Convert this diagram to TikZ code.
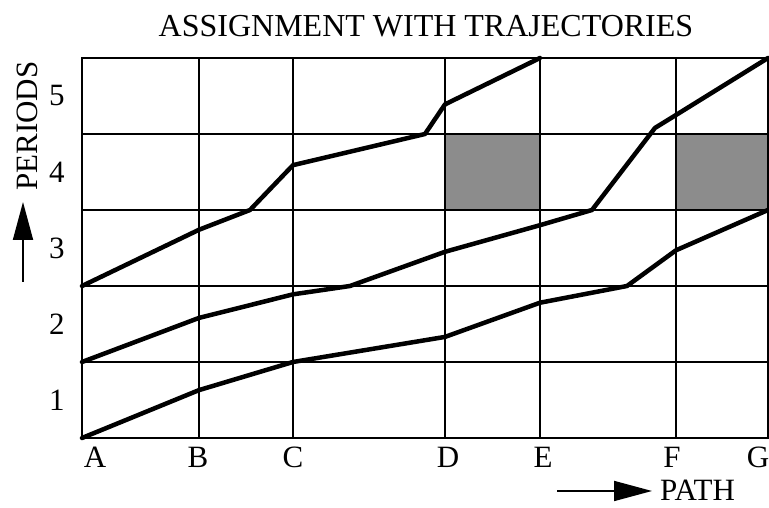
\documentclass[tikz,border=0pt]{standalone}
\usepackage{fontspec}
\setmainfont{Liberation Serif}
\usetikzlibrary{arrows.meta}

\begin{document}
\begin{tikzpicture}[
    x=1pt, y=76pt,
    gridline/.style={line width=1.8pt, line cap=rect},
    traj/.style={line width=4.5pt, line join=round, line cap=round},
    busy/.style={fill=black!45},
    lbl/.style={font=\fontsize{31}{33}\selectfont, inner sep=0pt},
    axisarrow/.style={line width=1.8pt, -{Triangle[length=38pt, width=20pt]}},
  ]
    \useasboundingbox (-82pt,-70pt) rectangle (687pt,438pt);

    % occupied cells
    \fill[busy] (363,3) rectangle (458,4);
    \fill[busy] (594,3) rectangle (686,4);

    % stations along the path and periods
    \foreach \x in {0,117,211,363,458,594,686}
      \draw[gridline] (\x,0) -- (\x,5);
    \foreach \y in {0,...,5}
      \draw[gridline] (0,\y) -- (686,\y);

    % trajectories
    \draw[traj] (0,0) -- (117,0.63) -- (211,1) -- (363,1.33) -- (458,1.78)
      -- (545,2) -- (594,2.47) -- (686,3);
    \draw[traj] (0,1) -- (117,1.58) -- (211,1.89) -- (268,2) -- (363,2.45)
      -- (458,2.80) -- (510,3) -- (573,4.08) -- (594,4.25) -- (686,5);
    \draw[traj] (0,2) -- (117,2.74) -- (168,3) -- (211,3.59) -- (343,4)
      -- (363,4.39) -- (458,5);

    % labels
    \node[lbl, font=\fontsize{32}{34}\selectfont] (title) at (344pt,412pt) {ASSIGNMENT WITH TRAJECTORIES};
    \node[lbl, anchor=base] (stA) at (13,-30pt) {A};
    \node[lbl, anchor=base] (stB) at (116,-30pt) {B};
    \node[lbl, anchor=base] (stC) at (211,-30pt) {C};
    \node[lbl, anchor=base] (stD) at (366,-30pt) {D};
    \node[lbl, anchor=base] (stE) at (461,-30pt) {E};
    \node[lbl, anchor=base] (stF) at (590,-30pt) {F};
    \node[lbl, anchor=base] (stG) at (676,-30pt) {G};

    \node[lbl] (per1) at (-25,0.5) {1};
    \node[lbl] (per2) at (-25,1.5) {2};
    \node[lbl] (per3) at (-25,2.5) {3};
    \node[lbl] (per4) at (-25,3.5) {4};
    \node[lbl] (per5) at (-25,4.5) {5};

    \node[lbl, anchor=base west] (path) at (578,-63pt) {PATH};
    \coordinate (pathtail) at (475,-53pt);
    \coordinate (pathtip) at (570,-53pt);
    \draw[axisarrow] (pathtail) -- (pathtip);

    \node[lbl, rotate=90] (periods) at (-55,312pt) {PERIODS};
    \coordinate (pertail) at (-59,156pt);
    \coordinate (pertip) at (-59,236pt);
    \draw[axisarrow] (pertail) -- (pertip);
\end{tikzpicture}
\end{document}
